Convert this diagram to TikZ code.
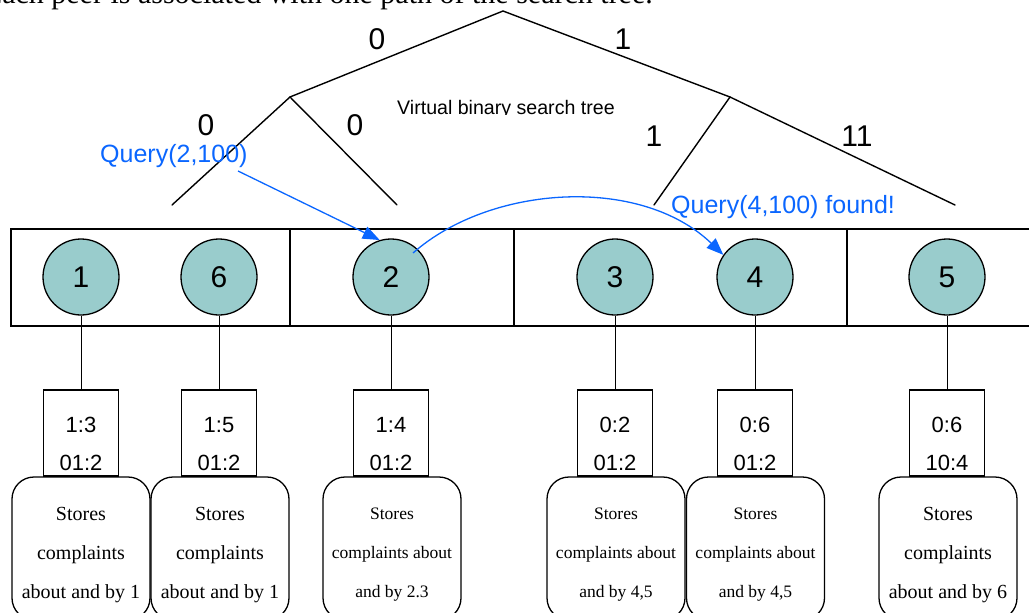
\documentclass[tikz,border=0pt]{standalone}
\usepackage{fontspec}
\usetikzlibrary{arrows.meta}
\newfontfamily\arialf{Liberation Sans}
\newfontfamily\timesf{Liberation Serif}
\definecolor{peerfill}{RGB}{153,204,204}
\definecolor{qblue}{RGB}{10,102,255}
\tikzset{
  treeedge/.style={line width=1.4pt, line cap=round},
  bit/.style={font=\arialf\fontsize{30}{36}\selectfont, inner sep=0pt, anchor=base},
  peer/.style={circle, draw, line width=1.3pt, fill=peerfill, minimum size=76pt,
    inner sep=0pt, font=\arialf\fontsize{30}{36}\selectfont},
  keybox/.style={draw, line width=1.3pt, minimum width=75pt, minimum height=86pt, inner sep=0pt},
  keytext/.style={font=\arialf\fontsize{22}{38}\selectfont, align=center, inner sep=0pt},
  storebox/.style={draw, line width=1.3pt, rounded corners=22pt, minimum width=138pt,
    minimum height=143pt, inner sep=0pt},
  storetext/.style={font=\timesf\fontsize{20}{39}\selectfont, align=center, inner sep=0pt},
  smalltext/.style={font=\timesf\fontsize{17.5}{39}\selectfont},
  link/.style={line width=1pt},
  rowline/.style={line width=1.5pt},
  query/.style={draw=qblue, line width=1.3pt, -{Triangle[length=17pt,width=13pt]}},
  qlabel/.style={text=qblue, font=\arialf\fontsize{25}{30}\selectfont, inner sep=0pt, anchor=base west},
}
\begin{document}
\begin{tikzpicture}[x=1pt, y=-1pt]
\useasboundingbox (0,0) rectangle (1029,613);
\clip (0,0) rectangle (1029,613);

% sentence above the tree
\node[anchor=base east, inner sep=0pt, font=\timesf\fontsize{30}{36}\selectfont] (caption)
  at (653,3) {Each peer is associated with one path of the search tree.};

% virtual binary search tree
\coordinate (root) at (503,11);
\coordinate (n0) at (290,97);
\coordinate (n1) at (730,97);
\coordinate (l00) at (172,205);
\coordinate (l01) at (397,205);
\coordinate (l10) at (654,205);
\coordinate (l11) at (955,205);
\draw[treeedge] (n0) -- (root) -- (n1);
\draw[treeedge] (l00) -- (n0) -- (l01);
\draw[treeedge] (l10) -- (n1) -- (l11);

\node[bit] (b0) at (377,49.5) {0};
\node[bit] (b1) at (623,49.5) {1};
\node[bit] (b00) at (206,135) {0};
\node[bit] (b01) at (355,135) {0};
\node[bit] (b10) at (654,146) {1};
\node[bit] (b11) at (857,146) {11};

\begin{scope}
  \clip (385,85) rectangle (640,114.6);
  \node[anchor=base west, inner sep=0pt, font=\arialf\fontsize{19.6}{24}\selectfont] (vbst)
    at (397,114) {Virtual binary search tree};
\end{scope}

% row of peers grouped by path
\draw[rowline] (11,229) rectangle (1045,326);
\draw[rowline] (290,229) -- (290,326);
\draw[rowline] (514,229) -- (514,326);
\draw[rowline] (847,229) -- (847,326);

\node[peer] (p1) at (81,277) {1};
\node[peer] (p6) at (219,277) {6};
\node[peer] (p2) at (391,277) {2};
\node[peer] (p3) at (615,277) {3};
\node[peer] (p4) at (755,277) {4};
\node[peer] (p5) at (947,277) {5};

% key tables
\node[keybox] (k1) at (81,433) {};
\node[keybox] (k6) at (219,433) {};
\node[keybox] (k2) at (391,433) {};
\node[keybox] (k3) at (615,433) {};
\node[keybox] (k4) at (755,433) {};
\node[keybox] (k5) at (947,433) {};
\node[keytext] (kt1) at (81,444) {1:3\\01:2};
\node[keytext] (kt6) at (219,444) {1:5\\01:2};
\node[keytext] (kt2) at (391,444) {1:4\\01:2};
\node[keytext] (kt3) at (615,444) {0:2\\01:2};
\node[keytext] (kt4) at (755,444) {0:6\\01:2};
\node[keytext] (kt5) at (947,444) {0:6\\10:4};

\foreach \i in {1,6,2,3,4,5} {
  \draw[link] (p\i.south) -- (k\i.north);
}

% storage boxes
\node[storebox] (s1) at (81,548.5) {};
\node[storebox] (s6) at (220,548.5) {};
\node[storebox] (s2) at (392,548.5) {};
\node[storebox] (s3) at (616,548.5) {};
\node[storebox] (s4) at (755.5,548.5) {};
\node[storebox] (s5) at (948,548.5) {};
\node[storetext] (st1) at (81,555) {Stores\\complaints\\about and by 1};
\node[storetext] (st6) at (220,555) {Stores\\complaints\\about and by 1};
\node[storetext, smalltext] (st2) at (392,555) {Stores\\complaints about\\and by 2.3};
\node[storetext, smalltext] (st3) at (616,555) {Stores\\complaints about\\and by 4,5};
\node[storetext, smalltext] (st4) at (755.5,555) {Stores\\complaints about\\and by 4,5};
\node[storetext] (st5) at (948,555) {Stores\\complaints\\about and by 6};

% query routing
\node[qlabel] (q1) at (100,162) {Query(2,100)};
\node[qlabel] (q2) at (671,213) {Query(4,100) found!};
\coordinate (qs1) at (238,171);
\coordinate (qs2) at (413,253);
\draw[query] (qs1) -- (p2.107);
\draw[query] (qs2) .. controls (490,185) and (640,175) .. (p4.145);
\end{tikzpicture}
\end{document}
